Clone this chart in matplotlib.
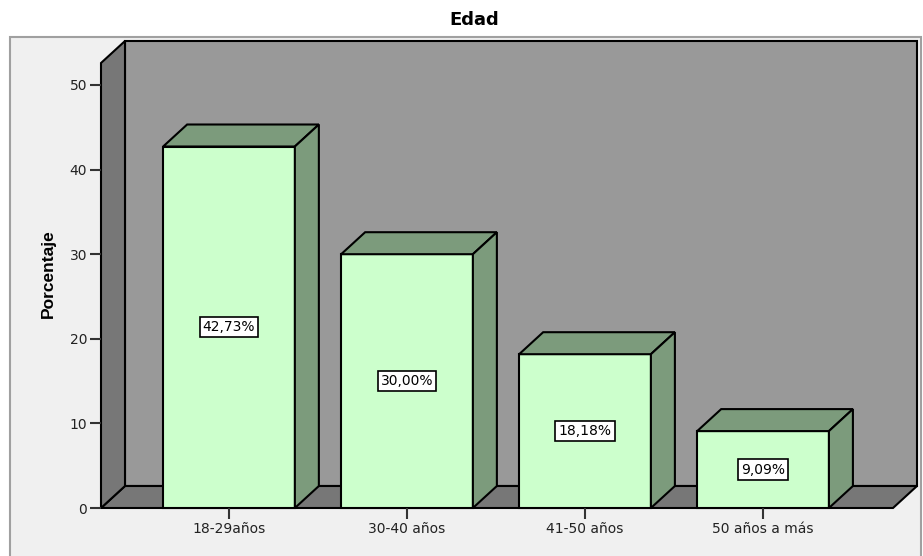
import matplotlib.pyplot as plt
import matplotlib.patches as mpatches
import numpy as np

# Edad - porcentaje por grupo
categorias = ["18-29años", "30-40 años", "41-50 años", "50 años a más"]
porcentajes = [42.73, 30.00, 18.18, 9.09]
etiquetas = ["42,73%", "30,00%", "18,18%", "9,09%"]
yticks = [0, 10, 20, 30, 40, 50]

plt.rcParams['font.family'] = ['DejaVu Sans']

W, H = 923, 556
fig = plt.figure(figsize=(W / 100, H / 100), dpi=100)
fig.patch.set_facecolor("white")

# light gray chart frame (bottom edge runs off the figure)
marco = mpatches.Rectangle((10 / W, -0.05), 911 / W, (H - 37) / H + 0.05,
                           transform=fig.transFigure,
                           facecolor="#f0f0f0", edgecolor="#a0a0a0",
                           linewidth=1.5, zorder=-10)
fig.add_artist(marco)

# axes = front plane of the 3d box
left, right, bottom, top = 101, 893, 508, 40
ax = fig.add_axes([left / W, (H - bottom) / H, (right - left) / W, (bottom - top) / H])
ax.set_facecolor("none")
x0, x1 = -0.719, 3.730
ax.set_xlim(x0, x1)
ymax = (bottom - top) / 8.46
ax.set_ylim(0, ymax)

# depth offset in data units (about 24 px right, 22 px up)
dx = 24 / ((right - left) / (x1 - x0))
dy = 22 / 8.46
wall_top = 52.6

edge = dict(edgecolor="black", linewidth=1.5, clip_on=False)

# back wall
ax.add_patch(mpatches.Polygon([(x0 + dx, dy), (x1 + dx, dy), (x1 + dx, wall_top + dy),
                               (x0 + dx, wall_top + dy)], facecolor="#999999", **edge))
# floor
ax.add_patch(mpatches.Polygon([(x0, 0), (x1, 0), (x1 + dx, dy), (x0 + dx, dy)],
                              facecolor="#777777", **edge))
# left wall
ax.add_patch(mpatches.Polygon([(x0, 0), (x0, wall_top), (x0 + dx, wall_top + dy),
                               (x0 + dx, dy)], facecolor="#777777", **edge))

ancho = 0.74
xs = np.arange(len(categorias))
for x, v, lab in zip(xs, porcentajes, etiquetas):
    a, b = x - ancho / 2, x + ancho / 2
    # front face
    ax.add_patch(mpatches.Polygon([(a, 0), (b, 0), (b, v), (a, v)],
                                  facecolor="#ccffcc", **edge))
    # top face
    ax.add_patch(mpatches.Polygon([(a, v), (b, v), (b + dx, v + dy), (a + dx, v + dy)],
                                  facecolor="#7c9b7c", **edge))
    # side face
    ax.add_patch(mpatches.Polygon([(b, 0), (b + dx, dy), (b + dx, v + dy), (b, v)],
                                  facecolor="#7c9b7c", **edge))
    ax.text(x, v / 2, lab, ha="center", va="center", fontsize=10,
            bbox=dict(boxstyle="square,pad=0.22", facecolor="white",
                      edgecolor="black", linewidth=1.2))

for s in ax.spines.values():
    s.set_visible(False)
ax.set_xticks(xs)
ax.set_xticklabels(categorias, fontsize=10, color="#222222")
ax.set_yticks(yticks)
ax.set_yticklabels([str(t) for t in yticks], fontsize=10, color="#222222")
ax.tick_params(axis="both", length=8, width=1.5, color="#333333", pad=2)

ax.set_ylabel("Porcentaje", fontsize=12.5, fontweight="bold",
              family=["Liberation Sans Narrow", "Liberation Sans"], labelpad=10)
fig.text(474 / W, 1 - 20 / H, "Edad", ha="center", va="center",
         fontsize=13, fontweight="bold")

fig.savefig("out.png", dpi=100)
